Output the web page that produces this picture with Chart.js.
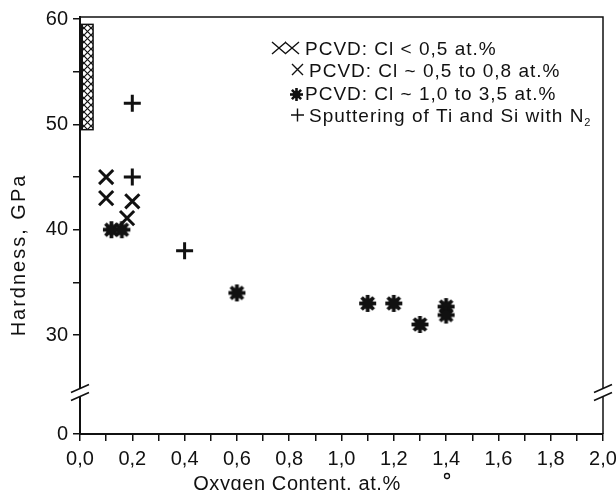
<!DOCTYPE html>
<html>
<head>
<meta charset="utf-8">
<script src="https://cdn.jsdelivr.net/npm/chart.js@4"></script>
<style>
html, body { margin: 0; padding: 0; background: #fff; }
</style>
</head>
<body>
<canvas id="chart" width="616" height="490"></canvas>
<script>
// values: oxygen content (at.%) and hardness (GPa)
const xMidCl = [0.1, 0.1, 0.2, 0.18];
const hMidCl = [45, 43, 42.7, 41.1];
const xHighCl = [0.12, 0.16, 0.6, 1.1, 1.2, 1.3, 1.4, 1.4];
const hHighCl = [40, 40, 34, 33, 33, 31, 32.7, 31.9];
const xSputter = [0.2, 0.2, 0.4];
const hSputter = [52, 45, 38];
const lowClX = [0, 0.05];      // hatched band, Cl < 0,5 at.%
const lowClH = [49.5, 59.5];

const xTickValues = [0, 0.1, 0.2, 0.3, 0.4, 0.5, 0.6, 0.7, 0.8, 0.9, 1.0, 1.1, 1.2, 1.3, 1.4, 1.5, 1.6, 1.7, 1.8, 1.9, 2.0];
const xTickLabels = ['0,0', '0,2', '0,4', '0,6', '0,8', '1,0', '1,2', '1,4', '1,6', '1,8', '2,0'];
const yTickValues = [0, 30, 35, 40, 45, 50, 55, 60];
const yTickLabels = ['0', '30', '', '40', '', '50', '', '60'];

const legendLabels = ['PCVD: Cl < 0,5 at.%', 'PCVD: Cl ~ 0,5 to 0,8 at.%', 'PCVD: Cl ~ 1,0 to 3,5 at.%', 'Sputtering of Ti and Si with N'];

const FONT = "'Liberation Sans', Arial, Helvetica, sans-serif";
const INK = '#111';

// broken y axis: 0 sits right under 30
const breakShift = 20.6;
function toD(h) { return h === 0 ? 0 : h - breakShift; }
const yBreak = 3.9;

function pts(xs, hs) { return xs.map((x, i) => ({ x: x, y: toD(hs[i]) })); }

function starImg(size, lw, dot) {
    const c = document.createElement('canvas');
    c.width = c.height = size;
    const g = c.getContext('2d');
    const m = size / 2, r = size / 2 - 1;
    g.strokeStyle = INK; g.fillStyle = INK; g.lineWidth = lw;
    for (let k = 0; k < 4; k++) {
        const a = k * Math.PI / 4;
        g.beginPath();
        g.moveTo(m - r * Math.cos(a), m - r * Math.sin(a));
        g.lineTo(m + r * Math.cos(a), m + r * Math.sin(a));
        g.stroke();
    }
    g.beginPath(); g.arc(m, m, dot, 0, Math.PI * 2); g.fill();
    return c;
}

function hatchPattern(ctx) {
    const c = document.createElement('canvas');
    c.width = c.height = 7;
    const g = c.getContext('2d');
    g.fillStyle = '#fff'; g.fillRect(0, 0, 7, 7);
    g.strokeStyle = INK; g.lineWidth = 1.2;
    g.beginPath(); g.moveTo(0, 0); g.lineTo(7, 7); g.moveTo(7, 0); g.lineTo(0, 7); g.stroke();
    return ctx.createPattern(c, 'repeat');
}

const framePlugin = {
    id: 'frame',
    beforeDatasetsDraw(chart) {
        const ctx = chart.ctx, xs = chart.scales.x, ys = chart.scales.y;
        const x0 = xs.getPixelForValue(lowClX[0]), x1 = xs.getPixelForValue(lowClX[1]);
        const y0 = ys.getPixelForValue(toD(lowClH[1])), y1 = ys.getPixelForValue(toD(lowClH[0]));
        ctx.save();
        ctx.fillStyle = hatchPattern(ctx);
        ctx.fillRect(x0, y0, x1 - x0, y1 - y0);
        ctx.strokeStyle = INK; ctx.lineWidth = 1.5;
        ctx.strokeRect(x0, y0, x1 - x0, y1 - y0);
        ctx.lineWidth = 4;
        ctx.beginPath(); ctx.moveTo(x0 + 1, y0); ctx.lineTo(x0 + 1, y1); ctx.stroke();
        ctx.restore();
    },
    afterDraw(chart) {
        const ctx = chart.ctx, a = chart.chartArea, ys = chart.scales.y;
        ctx.save();
        ctx.strokeStyle = INK; ctx.fillStyle = INK;
        // top and right border
        ctx.lineWidth = 1.5;
        ctx.beginPath();
        ctx.moveTo(a.left, a.top); ctx.lineTo(a.right, a.top); ctx.lineTo(a.right, a.bottom);
        ctx.stroke();
        // axis breaks
        const yb = ys.getPixelForValue(yBreak);
        [a.left, a.right].forEach(xb => {
            ctx.fillStyle = '#fff';
            ctx.fillRect(xb - 3, yb - 4, 6, 8);
            ctx.strokeStyle = INK; ctx.lineWidth = 1.6;
            ctx.beginPath();
            ctx.moveTo(xb - 9, yb - 0.5); ctx.lineTo(xb + 9, yb - 8.5);
            ctx.moveTo(xb - 9, yb + 7.5); ctx.lineTo(xb + 9, yb - 0.5);
            ctx.stroke();
        });
        ctx.fillStyle = INK;
        // axis titles
        ctx.font = '20px ' + FONT;
        ctx.textAlign = 'center';
        ctx.textBaseline = 'alphabetic';
        ctx.letterSpacing = '0.6px';
        ctx.fillText('Oxygen Content, at.%', 297, 490);
        ctx.save();
        ctx.translate(25, 255);
        ctx.rotate(-Math.PI / 2);
        ctx.letterSpacing = '2px';
        ctx.fillText('Hardness, GPa', 0, 0);
        ctx.restore();
        ctx.lineWidth = 1.3;
        ctx.beginPath(); ctx.arc(447, 476, 2.5, 0, Math.PI * 2); ctx.stroke();
        // legend
        ctx.font = '19px ' + FONT;
        ctx.textAlign = 'left';
        ctx.letterSpacing = '1px';
        const rows = [
            { y: 55, tx: 305 },
            { y: 77, tx: 309 },
            { y: 100, tx: 305 },
            { y: 122, tx: 309 }
        ];
        rows.forEach((r, i) => ctx.fillText(legendLabels[i], r.tx, r.y));
        const nEnd = 309 + ctx.measureText(legendLabels[3]).width;
        ctx.font = '11px ' + FONT;
        ctx.letterSpacing = '0px';
        ctx.fillText('2', nEnd, 126);
        // legend symbols
        ctx.lineWidth = 1.4;
        ctx.beginPath();
        [279, 292].forEach(cx => {
            ctx.moveTo(cx - 7, 42); ctx.lineTo(cx + 7, 54);
            ctx.moveTo(cx - 7, 54); ctx.lineTo(cx + 7, 42);
        });
        ctx.moveTo(292, 64); ctx.lineTo(303, 75);
        ctx.moveTo(292, 75); ctx.lineTo(303, 64);
        ctx.moveTo(291, 115); ctx.lineTo(304, 115);
        ctx.moveTo(297.5, 108.5); ctx.lineTo(297.5, 121.5);
        ctx.stroke();
        ctx.drawImage(starImg(15, 2.6, 3.8), 289, 87);
        ctx.restore();
    }
};

const ctx = document.getElementById('chart').getContext('2d');
const chart = new Chart(ctx, {
    type: 'scatter',
    data: {
        datasets: [
            {
                label: legendLabels[1],
                data: pts(xMidCl, hMidCl),
                pointStyle: 'crossRot',
                pointRadius: 10,
                borderColor: INK,
                borderWidth: 3
            },
            {
                label: legendLabels[2],
                data: pts(xHighCl, hHighCl),
                pointStyle: starImg(19, 3.8, 5.5),
                pointRadius: 9.5,
                borderColor: INK,
                backgroundColor: INK
            },
            {
                label: legendLabels[3],
                data: pts(xSputter, hSputter),
                pointStyle: 'cross',
                pointRadius: 8.5,
                borderColor: INK,
                borderWidth: 3
            }
        ]
    },
    options: {
        responsive: false,
        animation: false,
        layout: { padding: { top: 17, right: 10, left: 0, bottom: 0 } },
        plugins: {
            legend: { display: false },
            tooltip: { enabled: false }
        },
        scales: {
            x: {
                type: 'linear',
                min: 0,
                max: 2,
                afterBuildTicks: s => { s.ticks = xTickValues.map(v => ({ value: v })); },
                ticks: {
                    callback: (v, i) => (i % 2 ? '' : xTickLabels[i / 2]),
                    autoSkip: false,
                    maxRotation: 0,
                    padding: 6,
                    color: INK,
                    font: { family: FONT, size: 20 }
                },
                grid: { drawOnChartArea: false, tickLength: 7, color: INK, lineWidth: 1.5 },
                border: { color: INK, width: 2 },
                afterFit: s => { s.height = 56; s.paddingLeft = 0; s.paddingRight = 0; }
            },
            y: {
                type: 'linear',
                min: 0,
                max: toD(60) + 0.2,
                afterBuildTicks: s => { s.ticks = yTickValues.map(h => ({ value: toD(h) })); },
                ticks: {
                    callback: (v, i) => yTickLabels[i],
                    autoSkip: false,
                    padding: 5,
                    color: INK,
                    font: { family: FONT, size: 20 }
                },
                grid: { drawOnChartArea: false, tickLength: 7, color: INK, lineWidth: 1.5 },
                border: { color: INK, width: 2 },
                afterFit: s => { s.width = 80; s.paddingTop = 0; s.paddingBottom = 0; }
            }
        }
    },
    plugins: [framePlugin]
});
</script>
</body>
</html>
